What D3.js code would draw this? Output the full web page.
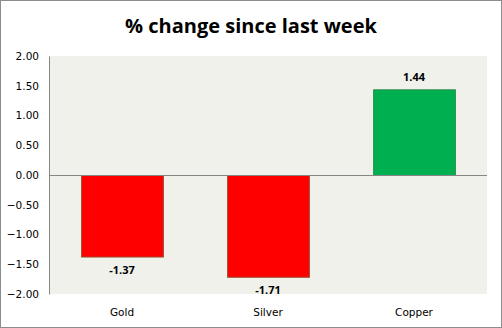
<!DOCTYPE html>
<html><head><meta charset="utf-8">
<script src="https://cdn.jsdelivr.net/npm/d3@7"></script>
<style>body{margin:0;background:#fff}svg{display:block}</style>
</head><body>
<svg id="c" width="502" height="328"></svg>
<script>
const categories = ["Gold", "Silver", "Copper"];
const values = [-1.37, -1.71, 1.44];
const tickValues = [-2, -1.5, -1, -0.5, 0, 0.5, 1, 1.5, 2];
const title = "% change since last week";

const svg = d3.select("#c");
const W = 502, H = 328;
const m = {left: 49, right: 15, top: 56, bottom: 34};
svg.append("rect").attr("x",0.5).attr("y",0.5).attr("width",W-1).attr("height",H-1)
  .attr("fill","#fff").attr("stroke","#8c8c8c").attr("stroke-width",1);

const x = d3.scaleBand().domain(categories).range([m.left, W-m.right]).paddingInner(0.44).paddingOuter(0.22);
const y = d3.scaleLinear().domain([-2, 2]).range([H-m.bottom, m.top]);

svg.append("rect").attr("x",m.left).attr("y",m.top).attr("width",W-m.right-m.left).attr("height",H-m.bottom-m.top)
  .attr("fill","#eff1ea");

svg.append("text").attr("x",W/2).attr("y",33).attr("text-anchor","middle")
  .attr("font-family","'Open Sans', Lato, sans-serif").attr("font-weight","bold").attr("font-size",20)
  .attr("fill","#000").text(title);

const ya = svg.append("g").attr("transform",`translate(${m.left},0)`)
  .call(d3.axisLeft(y).tickValues(tickValues).tickSize(0).tickPadding(10).tickFormat(d3.format(".2f")));
ya.select(".domain").attr("stroke","#868686");
ya.selectAll("text").attr("font-family","'DejaVu Sans', Verdana, sans-serif").attr("font-size",10.5).attr("fill","#000");

svg.selectAll(".bar").data(values).join("rect")
  .attr("x",(d,i)=>x(categories[i])+0.5)
  .attr("y",d=>Math.min(y(d),y(0))+0.5)
  .attr("width",x.bandwidth())
  .attr("height",d=>Math.abs(y(d)-y(0)))
  .attr("fill",d=>d<0?"#ff0000":"#00b050")
  .attr("stroke",d=>d<0?"#9c4a2a":"#2e8b4f").attr("stroke-width",1);

svg.append("line").attr("x1",m.left).attr("x2",W-m.right).attr("y1",Math.round(y(0))+0.5).attr("y2",Math.round(y(0))+0.5)
  .attr("stroke","#868686");

svg.selectAll(".lbl").data(values).join("text")
  .attr("x",(d,i)=>x(categories[i])+x.bandwidth()/2)
  .attr("y",d=>d<0?y(d)+17:y(d)-8)
  .attr("text-anchor","middle").attr("font-family","'Open Sans', Lato, sans-serif").attr("font-weight","bold")
  .attr("font-size",11).attr("fill","#000").text(d=>d.toFixed(2));

svg.selectAll(".cat").data(categories).join("text")
  .attr("x",d=>x(d)+x.bandwidth()/2).attr("y",H-m.bottom+22)
  .attr("text-anchor","middle").attr("font-family","'DejaVu Sans', Verdana, sans-serif").attr("font-size",10.5)
  .attr("fill","#000").text(d=>d);
</script>
</body></html>
